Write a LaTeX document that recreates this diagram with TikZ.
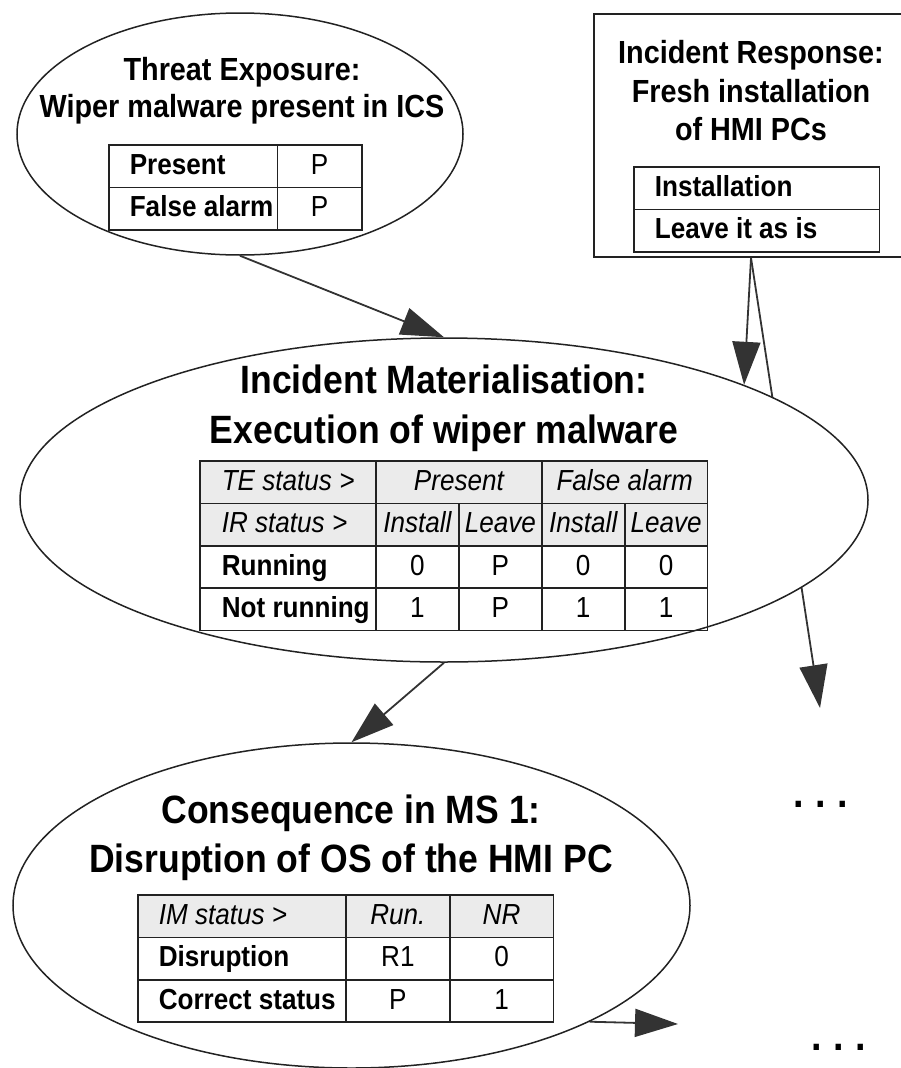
\documentclass[tikz,border=0pt]{standalone}
\usepackage{fontspec}
\setmainfont{Liberation Sans}[FakeStretch=0.9]
\usepackage{array}
\usepackage{colortbl}
\usetikzlibrary{arrows.meta}
\usetikzlibrary{shapes.geometric}

\definecolor{hdrgray}{HTML}{EBEBEB}
\definecolor{linegray}{HTML}{333333}
\definecolor{rulegray}{HTML}{222222}
\setlength{\tabcolsep}{0pt}
\setlength{\arrayrulewidth}{1.6pt}
\renewcommand{\arraystretch}{1.2}
\arrayrulecolor{rulegray}

\begin{document}
\begin{tikzpicture}[x=1pt, y=-1pt, inner sep=0pt,
  ell/.style={draw=rulegray, line width=1.5pt, fill=white, ellipse},
  ttl/.style={anchor=base, font=\fontsize{32}{38}\selectfont\bfseries},
  bigttl/.style={anchor=base, font=\fontsize{39.5}{48}\selectfont\bfseries},
  tbl/.style={anchor=north west, font=\fontsize{29}{34}\selectfont},
  arr/.style={color=linegray, line width=1.8pt, -{Triangle[length=43pt,width=28pt]}},
  dotsnode/.style={anchor=base, font=\fontsize{42}{48}\selectfont\bfseries}]
  \useasboundingbox (0,0) rectangle (901,1068);

  % threat exposure
  \node[ell, minimum width=446pt, minimum height=242pt] (te) at (240,134) {};
  \node[ttl] (teline1) at (242,80) {Threat Exposure:};
  \node[ttl] (teline2) at (242,117) {Wiper malware present in ICS};
  \node[tbl] (tetab) at (108,144) {\begin{tabular}{|>{\hspace{20pt}\bfseries}w{l}{167pt}|w{c}{82.6pt}|}\hline
    Present & P\\\hline
    False alarm & P\\\hline
  \end{tabular}};

  % incident response
  \node[draw=rulegray, line width=1.6pt, minimum width=314pt, minimum height=243pt] (ir) at (751,135.5) {};
  \node[ttl] (irline1) at (751,63) {Incident Response:};
  \node[ttl] (irline2) at (751,102) {Fresh installation};
  \node[ttl] (irline3) at (751,140) {of HMI PCs};
  \node[tbl] (irtab) at (633,166) {\begin{tabular}{|>{\hspace{20pt}\bfseries}w{l}{243.8pt}|}\hline
    Installation\\\hline
    Leave it as is\\\hline
  \end{tabular}};

  \coordinate (imout) at (820,708);
    \path[arr] (ir.south) edge (imout);

  % incident materialisation
  \node[ell, minimum width=848pt, minimum height=324pt] (im) at (444,500) {};
  \node[bigttl] (imline1) at (444,393) {Incident Materialisation:};
  \node[bigttl] (imline2) at (444,443) {Execution of wiper malware};
  \node[tbl] (imtab) at (199,460) {\begin{tabular}{|>{\hspace{21pt}}w{l}{174.4pt}|w{c}{81.3pt}|w{c}{81.3pt}|w{c}{81.3pt}|w{c}{81.3pt}|}\hline
    \rowcolor{hdrgray}\itshape TE status > & \multicolumn{2}{c|}{\itshape Present} & \multicolumn{2}{c|}{\itshape False alarm}\\\hline
    \rowcolor{hdrgray}\itshape IR status > & \itshape Install & \itshape Leave & \itshape Install & \itshape Leave\\\hline
    \textbf{Running} & 0 & P & 0 & 0\\\hline
    \textbf{Not running} & 1 & P & 1 & 1\\\hline
  \end{tabular}};

    \path[arr] (te.south) edge (im.north);
    \path[arr] (ir.south) edge (im.21);

  % consequence
  \node[ell, minimum width=677pt, minimum height=325pt] (cm) at (351.5,905.5) {};
  \node[bigttl] (cmline1) at (351,823) {Consequence in MS 1:};
  \node[bigttl] (cmline2) at (351,872) {Disruption of OS of the HMI PC};
  \node[tbl] (cmtab) at (137,894) {\begin{tabular}{|>{\hspace{20pt}}w{l}{206.4pt}|w{c}{102.1pt}|w{c}{102.1pt}|}\hline
    \rowcolor{hdrgray}\itshape IM status > & \itshape Run. & \itshape NR\\\hline
    \textbf{Disruption} & R1 & 0\\\hline
    \textbf{Correct status} & P & 1\\\hline
  \end{tabular}};

    \path[arr] (im.south) edge (cm.north);

  \coordinate (cmout) at (678,1024);
    \path[arr] (cm.-26) edge (cmout);

  \node[dotsnode] (dotsA) at (820.5,807.5) {.\hspace{11.5pt}.\hspace{11.5pt}.};
  \node[dotsnode] (dotsB) at (838.5,1050) {.\hspace{11.5pt}.\hspace{11.5pt}.};

\end{tikzpicture}
\end{document}
